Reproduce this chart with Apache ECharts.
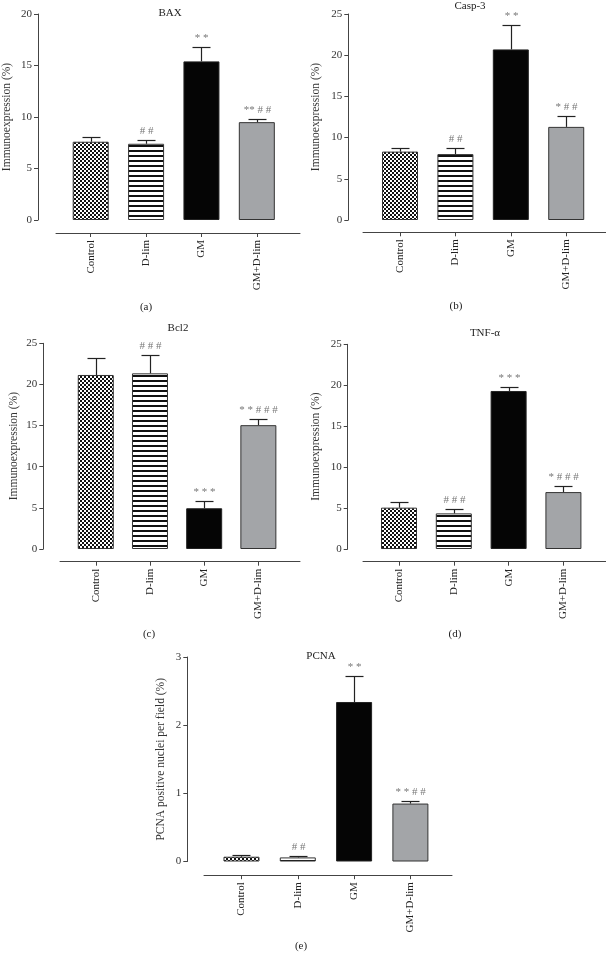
<!DOCTYPE html>
<html>
<head>
<meta charset="utf-8">
<script src="https://cdn.jsdelivr.net/npm/echarts@6/dist/echarts.min.js"></script>
<style>
html,body{margin:0;padding:0;background:#fff;}
#chart{width:606px;height:953px;}
</style>
</head>
<body>
<div id="chart"></div>
<script>
// ---------- data ----------
const categories = ['Control', 'D-lim', 'GM', 'GM+D-lim'];

const baxMean   = [7.6, 7.4, 15.4, 9.5];
const baxErr    = [8.1, 7.8, 16.8, 9.85];
const baxMarks  = ['', '# #', '* *', '** # #'];

const casp3Mean  = [8.3, 8.0, 20.7, 11.3];
const casp3Err   = [8.75, 8.7, 23.65, 12.65];
const casp3Marks = ['', '# #', '* *', '* # #'];

const bcl2Mean  = [21.15, 21.35, 4.95, 15.05];
const bcl2Err   = [23.2, 23.55, 5.85, 15.75];
const bcl2Marks = ['', '# # #', '* * *', '* * # # #'];

const tnfMean  = [5.05, 4.35, 19.3, 6.95];
const tnfErr   = [5.75, 4.9, 19.8, 7.75];
const tnfMarks = ['', '# # #', '* * *', '* # # #'];

const pcnaMean  = [0.07, 0.06, 2.34, 0.85];
const pcnaErr   = [0.09, 0.08, 2.72, 0.89];
const pcnaMarks = ['', '# #', '* *', '* * # #'];

const yMaxA = 20, yMaxB = 25, yMaxC = 25, yMaxD = 25, yMaxE = 3;
const yStepA = 5, yStepB = 5, yStepC = 5, yStepD = 5, yStepE = 1;
const titles = ['BAX', 'Casp-3', 'Bcl2', 'TNF-\u03b1', 'PCNA'];
const captions = ['(a)', '(b)', '(c)', '(d)', '(e)'];
const yNames = ['Immunoexpression (%)', 'Immunoexpression (%)', 'Immunoexpression (%)', 'Immunoexpression (%)', 'PCNA positive nuclei per field (%)'];

// ---------- patterns ----------
function checker() {
  const c = document.createElement('canvas'); c.width = 4; c.height = 4;
  const g = c.getContext('2d');
  g.fillStyle = '#ffffff'; g.fillRect(0, 0, 4, 4);
  g.fillStyle = '#111111'; g.fillRect(0, 0, 2, 2); g.fillRect(2, 2, 2, 2);
  return c;
}
function stripes() {
  const c = document.createElement('canvas'); c.width = 4; c.height = 5;
  const g = c.getContext('2d');
  g.fillStyle = '#ffffff'; g.fillRect(0, 0, 4, 5);
  g.fillStyle = '#111111'; g.fillRect(0, 0, 4, 2);
  return c;
}
const FONT = '"Liberation Serif", "DejaVu Serif", serif';
const barStyles = [
  { color: { image: checker(), repeat: 'repeat' }, borderColor: '#333', borderWidth: 1 },
  { color: { image: stripes(), repeat: 'repeat' }, borderColor: '#333', borderWidth: 1 },
  { color: '#050505', borderColor: '#222', borderWidth: 1 },
  { color: '#a3a5a8', borderColor: '#333', borderWidth: 1 }
];

// ---------- layout ----------
const panels = [
  { mean: baxMean, err: baxErr, marks: baxMarks, max: yMaxA, step: yStepA,
    left: 56, top: 14, width: 244, height: 206, yOff: 18, xOff: 13, xmin: -0.627, xmax: 3.78, nameGap: 25 },
  { mean: casp3Mean, err: casp3Err, marks: casp3Marks, max: yMaxB, step: yStepB,
    left: 363, top: 14, width: 243, height: 206, yOff: 14.7, xOff: 12.3, xmin: -0.668, xmax: 3.718, nameGap: 26 },
  { mean: bcl2Mean, err: bcl2Err, marks: bcl2Marks, max: yMaxC, step: yStepC,
    left: 60, top: 343.3, width: 240, height: 205.7, yOff: 16.7, xOff: 12.7, xmin: -0.66, xmax: 3.768, nameGap: 23 },
  { mean: tnfMean, err: tnfErr, marks: tnfMarks, max: yMaxD, step: yStepD,
    left: 363, top: 344.3, width: 243, height: 204.7, yOff: 15.3, xOff: 12.7, xmin: -0.657, xmax: 3.777, nameGap: 26 },
  { mean: pcnaMean, err: pcnaErr, marks: pcnaMarks, max: yMaxE, step: yStepE,
    left: 204, top: 657, width: 248, height: 204.5, yOff: 16.7, xOff: 13.7, xmin: -0.666, xmax: 3.739, nameGap: 20 }
];
const titlePos = [[170, 13], [470, 6], [178, 328], [485, 333], [321, 656]];
const captionPos = [[146, 307], [456, 306], [149, 634], [455, 634], [301, 946]];

const grid = [], xAxis = [], yAxis = [], series = [], graphic = [];
panels.forEach((p, k) => {
  grid.push({ left: p.left, top: p.top, width: p.width, height: p.height, containLabel: false, outerBoundsMode: 'none' });
  xAxis.push({
    type: 'value', gridIndex: k, min: p.xmin, max: p.xmax, position: 'bottom', offset: p.xOff,
    splitLine: { show: false },
    axisLine: { show: true, onZero: false, lineStyle: { color: '#444', width: 1 } },
    axisTick: { show: true, length: 4, customValues: [0, 1, 2, 3], lineStyle: { color: '#444' } },
    axisLabel: { show: true, customValues: [0, 1, 2, 3], rotate: 90, margin: 7,
      formatter: v => categories[Math.round(v)], color: '#222', fontSize: 11, fontFamily: FONT }
  });
  yAxis.push({
    type: 'value', gridIndex: k, min: 0, max: p.max, interval: p.step, position: 'left', offset: p.yOff,
    splitLine: { show: false },
    axisLine: { show: true, onZero: false, lineStyle: { color: '#444', width: 1 } },
    axisTick: { show: true, length: 4, lineStyle: { color: '#444' } },
    axisLabel: { color: '#333', fontSize: 11, fontFamily: FONT, margin: 6 },
    name: yNames[k], nameLocation: 'middle', nameGap: p.nameGap, nameRotate: 90,
    nameTextStyle: { color: '#333', fontSize: 11.5, fontFamily: FONT }
  });
  series.push({
    type: 'bar', xAxisIndex: k, yAxisIndex: k, barWidth: 36,
    data: p.mean.map((v, i) => ({ value: [i, v], itemStyle: barStyles[i] })),
    silent: true
  });
  const marks = p.marks;
  series.push({
    type: 'custom', xAxisIndex: k, yAxisIndex: k, z: 5, silent: true,
    data: p.mean.map((v, i) => [i, v, p.err[i]]),
    encode: { x: 0, y: 2 },
    renderItem: function (params, api) {
      const base = api.coord([api.value(0), api.value(1)]);
      const top = api.coord([api.value(0), api.value(2)]);
      const x = Math.round(top[0]) + 0.5;
      const yt = Math.round(top[1]) + 0.5;
      return {
        type: 'group',
        children: [
          { type: 'line', shape: { x1: x, y1: base[1], x2: x, y2: yt }, style: { stroke: '#222', lineWidth: 1.2 } },
          { type: 'line', shape: { x1: x - 9, y1: yt, x2: x + 9, y2: yt }, style: { stroke: '#222', lineWidth: 1.2 } },
          { type: 'text', style: { text: marks[params.dataIndex], x: x, y: yt - 4,
              textAlign: 'center', textVerticalAlign: 'bottom', fill: '#777',
              font: '11px ' + FONT } }
        ]
      };
    }
  });
  graphic.push({ type: 'text', x: titlePos[k][0], y: titlePos[k][1],
    style: { text: titles[k], textAlign: 'center', textVerticalAlign: 'middle', fill: '#222', font: '11px ' + FONT } });
  graphic.push({ type: 'text', x: captionPos[k][0], y: captionPos[k][1],
    style: { text: captions[k], textAlign: 'center', textVerticalAlign: 'middle', fill: '#222', font: '11px ' + FONT } });
});

const chart = echarts.init(document.getElementById('chart'), null, { renderer: 'canvas' });
chart.setOption({
  animation: false,
  backgroundColor: '#ffffff',
  grid, xAxis, yAxis, series, graphic
});
</script>
</body>
</html>
